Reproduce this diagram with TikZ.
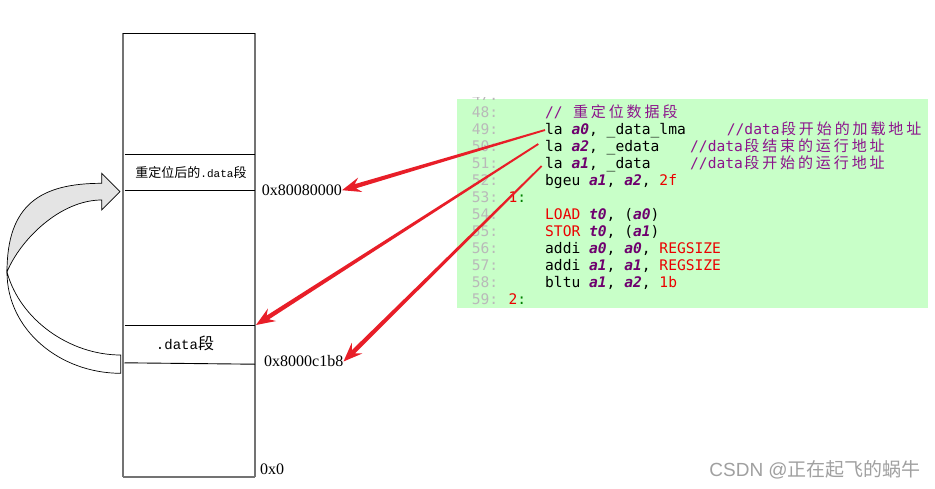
\documentclass[tikz,border=0pt]{standalone}
\usepackage{fontspec}
\setmainfont{Liberation Serif}
\newfontfamily\cjk{Noto Sans CJK SC}
\newfontfamily\codefont{DejaVu Sans Mono}
\newfontfamily\labmono{Liberation Mono}
\newfontfamily\wmfont{Liberation Sans}
\usetikzlibrary{calc}
\definecolor{codebg}{RGB}{200,255,200}
\definecolor{lnum}{RGB}{185,185,185}
\definecolor{cmt}{RGB}{140,20,140}
\definecolor{regc}{RGB}{110,0,110}
\definecolor{kred}{RGB}{235,0,0}
\definecolor{kgreen}{RGB}{0,128,0}
\definecolor{arrred}{RGB}{232,30,40}
\definecolor{memgray}{RGB}{115,115,115}
\definecolor{bendfill}{RGB}{228,228,228}
\definecolor{wmgray}{RGB}{160,160,160}
\newcommand\regx[1]{{\bfseries\itshape\color{regc}#1}}
\newcommand\kr[1]{{\color{kred}#1}}
\newcommand\cjkc[1]{\makebox[17.9pt][c]{\cjk\fontsize{15}{17}\selectfont #1}}
\newcommand\taperarrow[2]{%
  \path ($(#2)!14pt!(#1)$) coordinate (tpS) ($(#2)!19pt!(#1)$) coordinate (tpB);
  \fill[arrred] ($(#1)!0.9pt!90:(#2)$) -- ($(tpS)!2.2pt!90:(#2)$) -- ($(tpB)!7.5pt!90:(#2)$) -- (#2)
    -- ($(tpB)!7.5pt!-90:(#2)$) -- ($(tpS)!2.2pt!-90:(#2)$) -- ($(#1)!0.9pt!-90:(#2)$) -- cycle;}
\tikzset{
  codeline/.style={anchor=base west, inner sep=0pt, font=\codefont\fontsize{14.6}{17}\selectfont},
  lnumline/.style={codeline, text=lnum},
  addr/.style={inner sep=0pt, font=\fontsize{16}{18}\selectfont},
  bendline/.style={draw=black, line width=0.7pt},
  memside/.style={draw=memgray, line width=1.8pt},
  memdiv/.style={draw=black, line width=0.9pt}
}
\begin{document}
\begin{tikzpicture}[x=1pt,y=-1pt]
\useasboundingbox (0,0) rectangle (935,488);
\fill[white] (0,0) rectangle (935,488);

% curved block arrow
\filldraw[bendline, fill=white] (7,272) .. controls (7,330) and (60,373.3) .. (120.7,373.3)
  -- (120.7,355) .. controls (70,355) and (20,320) .. (7,272) -- cycle;
\filldraw[bendline, fill=bendfill] (7,272) .. controls (7,205) and (40,183.3) .. (101.7,183.3)
  -- (101.7,173.3) -- (120,191.7) -- (101.7,210) -- (101.7,200)
  .. controls (60,200) and (20,240) .. (7,272) -- cycle;

% memory box
\draw[memside] (123.3,33.3) -- (123.3,477);
\draw[memside] (255,33.3) -- (255,477);
\draw[memside] (123.3,477) -- (255,477);
\draw[line width=1.2pt] (123.3,33.3) -- (255,33.3);
\draw[memdiv] (124.5,154.3) -- (255,154.3);
\draw[memdiv] (124.5,190.7) -- (255,190.7);
\draw[memdiv] (124.5,325) -- (255,325);
\draw[memdiv] (124.5,362.8) -- (255,364.2);
\coordinate (d0) at (256,325);

\node[inner sep=0pt] (t1) at (191,173) {\cjk\fontsize{13}{15}\selectfont 重定位后的{\labmono\fontsize{11}{13}\selectfont .data}段};
\node[inner sep=0pt] (t2) at (185,343) {{\labmono\fontsize{14}{16}\selectfont .data}{\cjk\fontsize{16}{18}\selectfont 段}};
\node[addr, anchor=east] (h1) at (342,190.2) {0x80080000};
\node[addr, anchor=east] (h2) at (343.5,361.5) {0x8000c1b8};
\node[addr, anchor=base west] (h0) at (260,474) {0x0};

% code box
\fill[codebg] (457,98.5) rectangle (928,308);
\begin{scope}
\clip (455,97.5) rectangle (930,310);
\node[lnumline] (n47) at (471.7,100.5) {47:};
\end{scope}
\node[lnumline] (n48) at (471.7,117.5) {48:};
\node[lnumline] (n49) at (471.7,134.5) {49:};
\node[lnumline] (n50) at (471.7,151.5) {50:};
\node[lnumline] (n51) at (471.7,168.5) {51:};
\node[lnumline] (n52) at (471.7,185.5) {52:};
\node[lnumline] (n53) at (471.7,202.5) {53:};
\node[lnumline] (n54) at (471.7,219.5) {54:};
\node[lnumline] (n55) at (471.7,236.5) {55:};
\node[lnumline] (n56) at (471.7,253.5) {56:};
\node[lnumline] (n57) at (471.7,270.5) {57:};
\node[lnumline] (n58) at (471.7,287.5) {58:};
\node[lnumline] (n59) at (471.7,304.5) {59:};

\node[codeline, text=cmt] (c48) at (545,117.5) {//\hspace{8.8pt}\cjkc{重}\cjkc{定}\cjkc{位}\cjkc{数}\cjkc{据}\cjkc{段}};
\node[codeline] (c49) at (545,134.5) {la \regx{a0}, \_data\_lma};
\node[codeline, text=cmt] (m49) at (726.7,134.5) {//data\cjkc{段}\cjkc{开}\cjkc{始}\cjkc{的}\cjkc{加}\cjkc{载}\cjkc{地}\cjkc{址}};
\node[codeline] (c50) at (545,151.5) {la \regx{a2}, \_edata};
\node[codeline, text=cmt] (m50) at (690,151.5) {//data\cjkc{段}\cjkc{结}\cjkc{束}\cjkc{的}\cjkc{运}\cjkc{行}\cjkc{地}\cjkc{址}};
\node[codeline] (c51) at (545,168.5) {la \regx{a1}, \_data};
\node[codeline, text=cmt] (m51) at (690,168.5) {//data\cjkc{段}\cjkc{开}\cjkc{始}\cjkc{的}\cjkc{运}\cjkc{行}\cjkc{地}\cjkc{址}};
\node[codeline] (c52) at (545,185.5) {bgeu \regx{a1}, \regx{a2}, \kr{2f}};
\node[codeline] (c53) at (508.3,202.5) {\kr{1}{\color{kgreen}:}};
\node[codeline] (c54) at (545,219.5) {\kr{LOAD} \regx{t0}, (\regx{a0})};
\node[codeline] (c55) at (545,236.5) {\kr{STOR} \regx{t0}, (\regx{a1})};
\node[codeline] (c56) at (545,253.5) {addi \regx{a0}, \regx{a0}, \kr{REGSIZE}};
\node[codeline] (c57) at (545,270.5) {addi \regx{a1}, \regx{a1}, \kr{REGSIZE}};
\node[codeline] (c58) at (545,287.5) {bltu \regx{a1}, \regx{a2}, \kr{1b}};
\node[codeline] (c59) at (508.3,304.5) {\kr{2}{\color{kgreen}:}};

% red arrows
\coordinate (s1) at (545,130);
\coordinate (s2) at (538.3,144);
\coordinate (s3) at (541.7,166);
\taperarrow{s1}{h1.east}
\taperarrow{s2}{d0}
\taperarrow{s3}{h2.east}

% watermark
\node[anchor=east, inner sep=0pt, text=wmgray, font=\wmfont\fontsize{19}{21}\selectfont] (wm) at (921,469.5) {CSDN @{\cjk 正在起飞的蜗牛}};
\end{tikzpicture}
\end{document}
